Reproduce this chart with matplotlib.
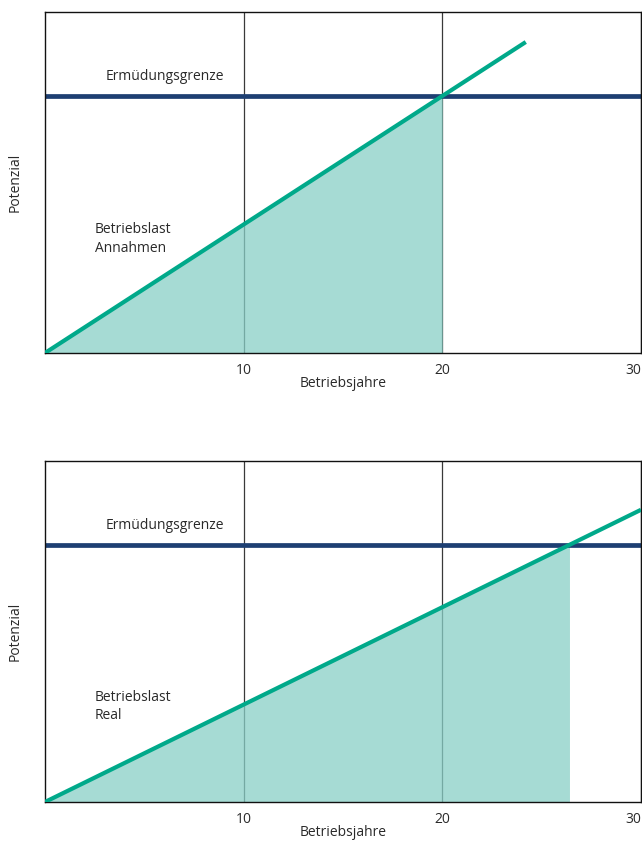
import matplotlib.pyplot as plt

plt.rcParams['font.family'] = ['Open Sans', 'DejaVu Sans']

# fatigue limit (relative potential) and load lines
limit = 0.754
ticks = [10, 20, 30]

# top: assumed operating load
years_top = [0, 24.2]
load_top = [0, 0.912]
fill_x_top = [0, 20]
fill_y_top = [0, 0.754]

# bottom: real operating load
years_bot = [0, 30]
load_bot = [0, 0.857]
fill_x_bot = [0, 26.4]
fill_y_bot = [0, 0.754]

green = '#00a98a'
blue = '#1d3f72'
txt = '#2a2a2a'

fig = plt.figure(figsize=(6.42, 8.41), dpi=100)
ax1 = fig.add_axes([0.0701, 0.5803, 0.9283, 0.4054])
ax2 = fig.add_axes([0.0701, 0.0464, 0.9283, 0.4054])

panels = [(ax1, years_top, load_top, fill_x_top, fill_y_top, 'Betriebslast\nAnnahmen', 0.334),
          (ax2, years_bot, load_bot, fill_x_bot, fill_y_bot, 'Betriebslast\nReal', 0.28)]

for ax, xs, ys, fx, fy, label, ly in panels:
    ax.set_xlim(0, 30)
    ax.set_ylim(0, 1)
    ax.set_axisbelow(True)
    ax.grid(axis='x', color='#3a3a3a', lw=0.9)
    ax.fill_between(fx, 0, fy, color='#88cfc6', alpha=0.75, lw=0, zorder=1)
    ax.axhline(limit, color=blue, lw=3.4, zorder=2)
    ax.plot(xs, ys, color=green, lw=3.0, solid_capstyle='butt', zorder=3)
    ax.text(3.05, 0.81, 'Ermüdungsgrenze', fontsize=10, color=txt, va='center')
    ax.text(2.5, ly, label, fontsize=10, color=txt, va='center', linespacing=1.3)
    ax.set_xticks(ticks)
    ax.set_xticklabels([str(t) for t in ticks], fontsize=10, color=txt)
    ax.get_xticklabels()[-1].set_ha('right')
    ax.set_yticks([])
    ax.tick_params(axis='x', length=0, pad=7)
    ax.set_xlabel('Betriebsjahre', fontsize=10, color=txt, labelpad=-1)
    ax.set_ylabel('Potenzial', fontsize=10, color=txt, labelpad=16)
    for s in ax.spines.values():
        s.set_linewidth(1.0)
        s.set_color('#111111')

fig.savefig('out.png', dpi=100)
